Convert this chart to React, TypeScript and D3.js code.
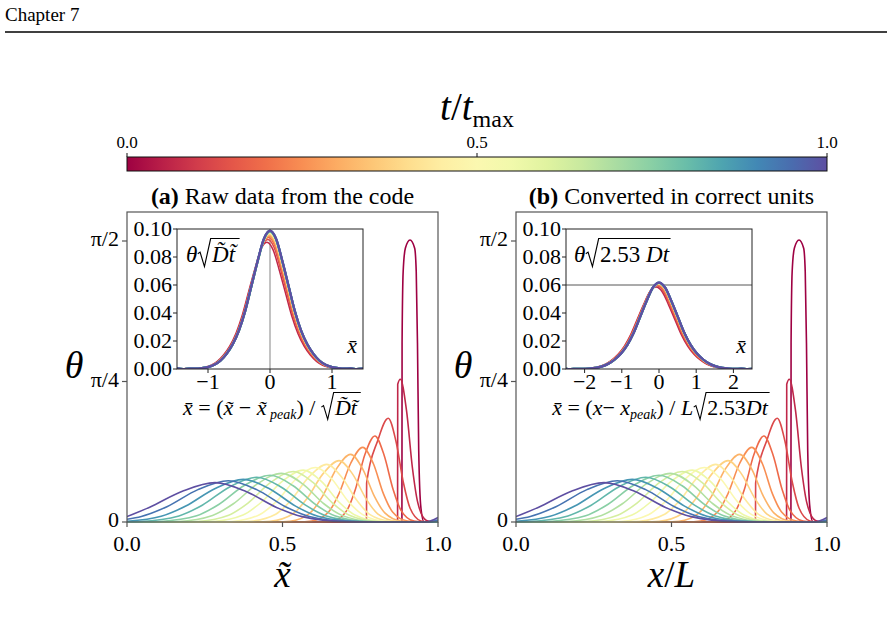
import React, { useLayoutEffect, useRef, useState } from "react";
import * as d3 from "d3";

const FONT = "'Liberation Serif', 'DejaVu Serif', serif";

// t / t_max of every plotted profile
const times = [0, 0.0625, 0.125, 0.1875, 0.25, 0.3125, 0.375, 0.4375, 0.5, 0.5625, 0.625, 0.6875, 0.75, 0.8125, 0.875, 0.9375, 1];

// theta(x) profiles as [x, theta] pairs, one list per time above
const profiles: [number, number][][] = [
  [[0, 0], [0.884, 0], [0.8845, 1.0], [0.888, 1.4], [0.895, 1.53], [0.91, 1.576], [0.925, 1.53], [0.93, 1.4], [0.934, 1.0], [0.938, 0.4], [0.945, 0.08], [0.955, 0], [1, 0]],
  [[0, 0], [0.87, 0], [0.8705, 0.77], [0.879, 0.798], [0.8986, 0.625], [0.918, 0.299], [0.935, 0.108], [0.963, 0.009], [0.99, 0], [1, 0]],
  [[0, 0], [0.77, 0], [0.7705, 0.218], [0.806, 0.454], [0.84, 0.58], [0.8645, 0.454], [0.889, 0.218], [0.91, 0.078], [0.945, 0.006], [0.97, 0], [1, 0]],
  [[0, 0], [0.6, 0], [0.662, 0.005], [0.707, 0.065], [0.734, 0.18], [0.765, 0.377], [0.797, 0.481], [0.826, 0.377], [0.856, 0.18], [0.881, 0.065], [0.923, 0.005], [0.96, 0], [1, 0]],
  [[0, 0], [0.55, 0], [0.593, 0.005], [0.648, 0.056], [0.681, 0.156], [0.719, 0.327], [0.758, 0.417], [0.792, 0.327], [0.825, 0.156], [0.854, 0.056], [0.902, 0.005], [0.94, 0], [1, 0]],
  [[0, 0], [0.48, 0], [0.524, 0.004], [0.589, 0.051], [0.628, 0.142], [0.673, 0.296], [0.719, 0.378], [0.758, 0.296], [0.796, 0.142], [0.829, 0.051], [0.884, 0.004], [0.93, 0], [1, 0]],
  [[0, 0], [0.41, 0], [0.46, 0.004], [0.534, 0.046], [0.578, 0.129], [0.63, 0.269], [0.682, 0.343], [0.725, 0.269], [0.769, 0.129], [0.806, 0.046], [0.868, 0.004], [0.92, 0], [1, 0]],
  [[0, 0], [0.34, 0], [0.396, 0.004], [0.478, 0.043], [0.527, 0.121], [0.585, 0.252], [0.642, 0.322], [0.69, 0.252], [0.739, 0.121], [0.78, 0.043], [0.849, 0.004], [0.91, 0], [1, 0]],
  [[0, 0], [0.28, 0], [0.336, 0.003], [0.426, 0.041], [0.48, 0.114], [0.543, 0.239], [0.606, 0.305], [0.659, 0.239], [0.712, 0.114], [0.758, 0.041], [0.834, 0.003], [0.9, 0], [1, 0]],
  [[0, 0], [0.22, 0], [0.276, 0.003], [0.373, 0.039], [0.431, 0.109], [0.499, 0.227], [0.567, 0.29], [0.625, 0.227], [0.683, 0.109], [0.733, 0.039], [0.816, 0.003], [0.89, 0], [1, 0]],
  [[0, 0], [0.16, 0], [0.223, 0.003], [0.327, 0.038], [0.389, 0.106], [0.462, 0.221], [0.535, 0.282], [0.598, 0.221], [0.661, 0.106], [0.715, 0.038], [0.805, 0.003], [0.88, 0], [1, 0]],
  [[0, 0], [0.1, 0], [0.164, 0.003], [0.275, 0.037], [0.342, 0.102], [0.419, 0.213], [0.497, 0.272], [0.565, 0.213], [0.633, 0.102], [0.691, 0.037], [0.788, 0.003], [0.87, 0], [1, 0]],
  [[0, 0], [0.05, 0], [0.106, 0.003], [0.224, 0.035], [0.295, 0.098], [0.377, 0.204], [0.46, 0.261], [0.533, 0.204], [0.606, 0.098], [0.668, 0.035], [0.772, 0.003], [0.86, 0], [1, 0]],
  [[0, 0.001], [0.042, 0.003], [0.167, 0.034], [0.242, 0.094], [0.33, 0.196], [0.417, 0.25], [0.495, 0.196], [0.574, 0.094], [0.641, 0.034], [0.753, 0.003], [0.85, 0], [1, 0]],
  [[0, 0.004], [0.11, 0.032], [0.189, 0.089], [0.282, 0.186], [0.374, 0.238], [0.458, 0.186], [0.542, 0.089], [0.614, 0.032], [0.734, 0.003], [0.85, 0], [0.97, 0], [1, 0.005]],
  [[0, 0.015], [0.046, 0.031], [0.13, 0.087], [0.228, 0.181], [0.326, 0.231], [0.417, 0.181], [0.508, 0.087], [0.586, 0.031], [0.716, 0.003], [0.85, 0], [0.97, 0], [1, 0.012]],
  [[0, 0.03], [0.073, 0.083], [0.178, 0.172], [0.283, 0.22], [0.381, 0.172], [0.479, 0.083], [0.563, 0.03], [0.703, 0.002], [0.8, 0], [0.96, 0], [1, 0.025]],
];

// rescaled profile shared by the insets: x-bar and height relative to the peak
const collapseU = [-1.5, -1.4, -1.3, -1.2, -1.1, -1.0, -0.9, -0.8, -0.7, -0.6, -0.5, -0.4, -0.3, -0.2, -0.1, 0,
  0.1, 0.2, 0.3, 0.4, 0.5, 0.6, 0.7, 0.8, 0.9, 1.0, 1.1, 1.2, 1.3, 1.4, 1.5];
const collapseV = [0.004, 0, 0.003, 0.002, 0.006, 0.014, 0.03, 0.06, 0.11, 0.18, 0.28, 0.42, 0.6, 0.78, 0.94, 1,
  0.94, 0.78, 0.6, 0.42, 0.28, 0.18, 0.11, 0.06, 0.03, 0.014, 0.006, 0.002, 0.004, 0, 0.003];

// peak height and centre offset of each rescaled curve (t > 0)
const peakA = [0.0905, 0.0925, 0.094, 0.095, 0.0958, 0.0964, 0.0969, 0.0973, 0.0976, 0.0979, 0.0981, 0.0983, 0.0985, 0.0986, 0.0987, 0.0988];
const shiftA = [-0.05, -0.035, -0.025, -0.018, -0.012, -0.008, -0.005, -0.003, -0.002, -0.001, 0, 0, 0, 0, 0, 0];
const peakB = [0.0585, 0.0594, 0.06, 0.0604, 0.0607, 0.0609, 0.0611, 0.0612, 0.0613, 0.0614, 0.0615, 0.0615, 0.0616, 0.0616, 0.0617, 0.0617];
const shiftB = [-0.08, -0.06, -0.045, -0.03, -0.02, -0.014, -0.009, -0.006, -0.004, -0.002, 0, 0, 0, 0, 0, 0];

const colorTicks = [0, 0.5, 1];
const mainXTicks = [0, 0.5, 1];
const mainYTicks = [0, Math.PI / 4, Math.PI / 2];
const mainYLabels = ["0", "π/4", "π/2"];
const insetYTicks = [0, 0.02, 0.04, 0.06, 0.08, 0.1];
const insetXTicksA = [-1, 0, 1];
const insetXTicksB = [-2, -1, 0, 1, 2];

const TICK = 22;

const color = (t: number) => d3.interpolateSpectral(t);
const fmtMinus = (v: number) => (v < 0 ? "−" + Math.abs(v) : String(v));

// text whose tail sits under a drawn radical sign
function RootText(props: {
  x: number; y: number; size: number; anchor?: string;
  head: React.ReactNode; radicand: React.ReactNode;
}) {
  const { x, y, size, anchor = "start", head, radicand } = props;
  const textRef = useRef<SVGTextElement>(null);
  const radRef = useRef<SVGTSpanElement>(null);
  const [geo, setGeo] = useState<{ x0: number; x1: number } | null>(null);

  useLayoutEffect(() => {
    const t = textRef.current, r = radRef.current;
    if (!t || !r) return;
    const bb = t.getBBox();
    const x0 = r.getStartPositionOfChar(0).x;
    setGeo({ x0, x1: bb.x + bb.width });
  }, []);

  let sign = null;
  if (geo) {
    const em = size;
    const top = y - 1.02 * em;
    const p = d3.path();
    p.moveTo(geo.x0 - 0.62 * em, y - 0.36 * em);
    p.lineTo(geo.x0 - 0.52 * em, y - 0.43 * em);
    p.lineTo(geo.x0 - 0.33 * em, y + 0.2 * em);
    p.lineTo(geo.x0 - 0.06 * em, top);
    p.lineTo(geo.x1 + 0.04 * em, top);
    sign = <path d={p.toString()} fill="none" stroke="#000" strokeWidth={0.05 * em} strokeLinejoin="miter" />;
  }

  return (
    <g>
      <text ref={textRef} x={x} y={y} fontSize={size} textAnchor={anchor} fontFamily={FONT}>
        {head}
        <tspan ref={radRef} dx={0.64 * size}>{radicand}</tspan>
      </text>
      {sign}
    </g>
  );
}

interface InsetSpec {
  left: number; right: number; top: number; bottom: number;
  domain: [number, number]; ticks: number[]; stretch: number;
  peaks: number[]; shifts: number[];
  yLabel: React.ReactNode; xLabel: React.ReactNode;
  guide: "vertical" | "horizontal";
}

function Inset({ spec, id }: { spec: InsetSpec; id: string }) {
  const x = d3.scaleLinear().domain(spec.domain).range([spec.left, spec.right]);
  const y = d3.scaleLinear().domain([0, 0.1]).range([spec.bottom, spec.top]);
  const line = d3.line<[number, number]>().x(d => x(d[0])).y(d => y(d[1])).curve(d3.curveMonotoneX);

  return (
    <g>
      <defs>
        <clipPath id={id}>
          <rect x={spec.left} y={spec.top - 4} width={spec.right - spec.left} height={spec.bottom - spec.top + 4} />
        </clipPath>
      </defs>
      <rect x={spec.left} y={spec.top} width={spec.right - spec.left} height={spec.bottom - spec.top} fill="#fff" />
      {spec.guide === "vertical" ? (
        <line x1={x(0)} x2={x(0)} y1={spec.top} y2={spec.bottom} stroke="#999" strokeWidth={1.2} />
      ) : (
        <line x1={spec.left} x2={spec.right} y1={y(0.06)} y2={y(0.06)} stroke="#444" strokeWidth={0.9} />
      )}
      <g clipPath={`url(#${id})`}>
        {spec.peaks.map((pk, k) => {
          const t = times[k + 1];
          const pts = collapseU.map((u, j) => [u * spec.stretch + spec.shifts[k], collapseV[j] * pk] as [number, number]);
          return (
            <path key={k} d={line(pts) || ""} fill="none" stroke={color(t)}
              strokeWidth={t > 0.6 ? 2.2 : 1.5} strokeLinejoin="round" />
          );
        })}
      </g>
      <rect x={spec.left} y={spec.top} width={spec.right - spec.left} height={spec.bottom - spec.top}
        fill="none" stroke="#222" strokeWidth={1} />
      {insetYTicks.map(v => (
        <g key={v}>
          <line x1={spec.left - 4} x2={spec.left} y1={y(v)} y2={y(v)} stroke="#222" />
          <text x={spec.left - 5} y={y(v) + 7} fontSize={TICK} textAnchor="end" fontFamily={FONT}>{v.toFixed(2)}</text>
        </g>
      ))}
      {spec.ticks.map(v => (
        <g key={v}>
          <line x1={x(v)} x2={x(v)} y1={spec.bottom} y2={spec.bottom + 4} stroke="#222" />
          <text x={x(v)} y={spec.bottom + 20} fontSize={TICK} textAnchor="middle" fontFamily={FONT}>{fmtMinus(v)}</text>
        </g>
      ))}
      <text x={spec.right - 6} y={spec.bottom - 16} fontSize={22} textAnchor="end" fontFamily={FONT} fontStyle="italic">x̄</text>
      {spec.yLabel}
      {spec.xLabel}
    </g>
  );
}

function Panel(props: {
  left: number; id: string; title: React.ReactNode; xLabel: React.ReactNode; inset: InsetSpec;
}) {
  const { left, id, title, xLabel, inset } = props;
  const top = 212, bottom = 522, width = 311;
  const x = d3.scaleLinear().domain([0, 1]).range([left, left + width]);
  const y = d3.scaleLinear().domain([0, Math.PI / 2]).range([bottom, 241]);
  const line = d3.line<[number, number]>().x(d => x(d[0])).y(d => y(d[1])).curve(d3.curveMonotoneX);
  const frame = "#555";

  return (
    <g>
      <defs>
        <clipPath id={`clip-${id}`}>
          <rect x={left} y={top} width={width} height={bottom - top + 1} />
        </clipPath>
      </defs>
      <text x={left + width / 2} y={204} fontSize={24} textAnchor="middle" fontFamily={FONT}>{title}</text>
      <g clipPath={`url(#clip-${id})`}>
        {profiles.map((pts, i) => (
          <path key={i} d={line(pts) || ""} fill="none" stroke={color(times[i])} strokeWidth={1.6} strokeLinejoin="round" />
        ))}
      </g>
      <rect x={left} y={top} width={width} height={bottom - top} fill="none" stroke={frame} strokeWidth={1.2} />
      {mainYTicks.map((v, i) => (
        <g key={i}>
          <line x1={left - 5} x2={left} y1={y(v)} y2={y(v)} stroke={frame} strokeWidth={1.2} />
          <text x={left - 8} y={y(v) + 5} fontSize={TICK} textAnchor="end" fontFamily={FONT}>{mainYLabels[i]}</text>
        </g>
      ))}
      {mainXTicks.map(v => (
        <g key={v}>
          <line x1={x(v)} x2={x(v)} y1={bottom} y2={bottom + 5} stroke={frame} strokeWidth={1.2} />
          <text x={x(v)} y={551} fontSize={TICK} textAnchor="middle" fontFamily={FONT}>{v.toFixed(1)}</text>
        </g>
      ))}
      <text x={left - 53} y={378} fontSize={38} textAnchor="middle" fontFamily={FONT} fontStyle="italic">θ</text>
      <text x={left + width / 2} y={587} fontSize={37} textAnchor="middle" fontFamily={FONT}>{xLabel}</text>
      <Inset spec={inset} id={`inset-${id}`} />
    </g>
  );
}

function ColorBar() {
  const x0 = 127, x1 = 827, top = 157, h = 14;
  const x = d3.scaleLinear().domain([0, 1]).range([x0, x1]);
  const stops = d3.range(0, 1.0001, 0.05);
  return (
    <g>
      <defs>
        <linearGradient id="spectral" x1="0" x2="1" y1="0" y2="0">
          {stops.map(s => <stop key={s} offset={s} stopColor={color(s)} />)}
        </linearGradient>
      </defs>
      <text x={477} y={120} fontSize={39} textAnchor="middle" fontFamily={FONT}>
        <tspan fontStyle="italic">t</tspan>/<tspan fontStyle="italic">t</tspan>
        <tspan fontSize={24} dy={7}>max</tspan>
      </text>
      <rect x={x0} y={top} width={x1 - x0} height={h} fill="url(#spectral)" stroke="#111" strokeWidth={1} />
      {colorTicks.map(v => (
        <g key={v}>
          <line x1={x(v)} x2={x(v)} y1={top - 4} y2={top} stroke="#111" />
          <text x={x(v)} y={148} fontSize={17} textAnchor="middle" fontFamily={FONT}>{v.toFixed(1)}</text>
        </g>
      ))}
    </g>
  );
}

export default function App() {
  const insetA: InsetSpec = {
    left: 177, right: 363, top: 229, bottom: 369,
    domain: [-1.5, 1.5], ticks: insetXTicksA, stretch: 1,
    peaks: peakA, shifts: shiftA, guide: "vertical",
    yLabel: (
      <RootText x={186} y={262} size={23}
        head={<tspan fontStyle="italic">θ</tspan>}
        radicand={<tspan fontStyle="italic">D̃t̃</tspan>} />
    ),
    xLabel: (
      <RootText x={270} y={415} size={22} anchor="middle"
        head={<>
          <tspan fontStyle="italic">x̄</tspan><tspan>  =  (</tspan><tspan fontStyle="italic">x̃</tspan>
          <tspan>  −  </tspan><tspan fontStyle="italic">x̃</tspan>
          <tspan fontStyle="italic" fontSize={14} dy={4}> peak</tspan><tspan dy={-4}>) / </tspan>
        </>}
        radicand={<tspan fontStyle="italic">D̃t̃</tspan>} />
    ),
  };
  const insetB: InsetSpec = {
    left: 566, right: 752, top: 229, bottom: 369,
    domain: [-2.5, 2.5], ticks: insetXTicksB, stretch: 1.7,
    peaks: peakB, shifts: shiftB, guide: "horizontal",
    yLabel: (
      <RootText x={574} y={262} size={23}
        head={<tspan fontStyle="italic">θ</tspan>}
        radicand={<>2.53 <tspan fontStyle="italic">Dt</tspan></>} />
    ),
    xLabel: (
      <RootText x={660} y={415} size={22} anchor="middle"
        head={<>
          <tspan fontStyle="italic">x̄</tspan><tspan>  =  (</tspan><tspan fontStyle="italic">x</tspan>
          <tspan>−  </tspan><tspan fontStyle="italic">x</tspan>
          <tspan fontStyle="italic" fontSize={14} dy={4}>peak</tspan><tspan dy={-4}>) / </tspan>
          <tspan fontStyle="italic">L</tspan>
        </>}
        radicand={<>2.53<tspan fontStyle="italic">Dt</tspan></>} />
    ),
  };

  return (
    <div style={{ position: "absolute", left: 0, top: 0 }}>
      <svg width={892} height={628} viewBox="0 0 892 628" style={{ display: "block", background: "#fff" }}>
        <text x={5} y={21} fontSize={19} fontFamily={FONT}>Chapter 7</text>
        <line x1={5} x2={887} y1={32} y2={32} stroke="#000" strokeWidth={1.3} />
        <ColorBar />
        <Panel left={127} id="a" inset={insetA}
          title={<><tspan fontWeight="bold">(a)</tspan> Raw data from the code</>}
          xLabel={<tspan fontStyle="italic">x̃</tspan>} />
        <Panel left={516} id="b" inset={insetB}
          title={<><tspan fontWeight="bold">(b)</tspan> Converted in correct units</>}
          xLabel={<><tspan fontStyle="italic">x</tspan>/<tspan fontStyle="italic">L</tspan></>} />
      </svg>
    </div>
  );
}
